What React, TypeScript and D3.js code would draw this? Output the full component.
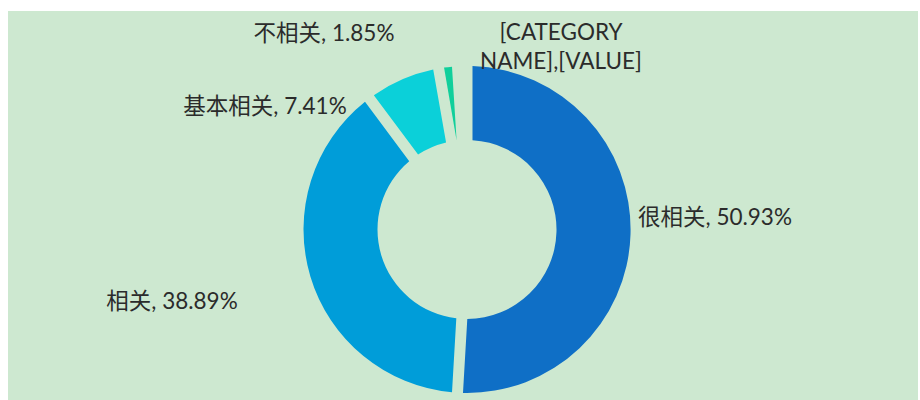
import React from 'react';
import * as d3 from 'd3';

const categories = ['很相关', '相关', '基本相关', '不相关', '[CATEGORY NAME]'];
const values = [55, 42, 8, 2, 1];
const colors = ['#0f6fc6', '#009dd9', '#0bd0d9', '#10cf9b', '#7cca62'];

const W = 920;
const H = 400;
const cx = 467;
const cy = 229.5;
const R = 163.5;
const r = 89.5;
const gap = 11;
const bg = '#cde8d0';

// label anchor positions (layout)
const labelPos: [number, number][] = [
  [715, 225],
  [172, 309],
  [265, 114],
  [324, 41],
  [561, 40],
];

export default function App() {
  const total = d3.sum(values);
  const pie = d3.pie<number>().sort(null).startAngle(0).endAngle(2 * Math.PI);
  const arcs = pie(values);
  const arc = d3
    .arc<d3.PieArcDatum<number>>()
    .innerRadius(r)
    .outerRadius(R)
    .padAngle(gap / R)
    .padRadius(R);
  const fmt = (v: number) => ((v / total) * 100).toFixed(2) + '%';
  const font = "Lato, 'Noto Sans CJK SC', sans-serif";
  const txt = '#2b2b2b';
  return (
    <svg
      width={W}
      height={H}
      style={{ position: 'absolute', left: 0, top: 0 }}
      fontFamily={font}
    >
      <rect x={0} y={0} width={W} height={H} fill="#ffffff" />
      <rect x={8} y={11} width={910} height={H - 11} fill={bg} />
      <g transform={`translate(${cx},${cy})`}>
        {arcs.map((a, i) => (
          <path key={i} d={arc(a) || ''} fill={colors[i]} />
        ))}
      </g>
      {arcs.map((a, i) => {
        const [x, y] = labelPos[i];
        if (i === arcs.length - 1) {
          return (
            <text key={i} x={x} y={y} textAnchor="middle" fill={txt} fontSize={22.5}>
              <tspan x={x} y={y}>[CATEGORY</tspan>
              <tspan x={x} y={y + 29}>NAME],[VALUE]</tspan>
            </text>
          );
        }
        return (
          <text key={i} x={x} y={y} textAnchor="middle" fill={txt} fontSize={22.5}>
            {`${categories[i]}, ${fmt(values[i])}`}
          </text>
        );
      })}
    </svg>
  );
}
